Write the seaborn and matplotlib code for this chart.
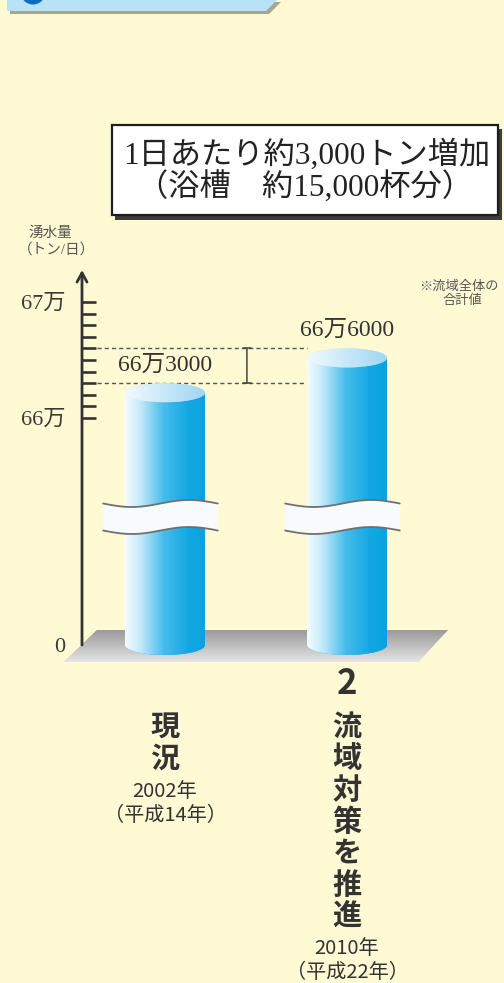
import numpy as np
import pandas as pd
import matplotlib
matplotlib.use("Agg")
import matplotlib.pyplot as plt
import seaborn as sns
from matplotlib import transforms
from matplotlib.patches import Ellipse, Polygon, Rectangle, Circle
from matplotlib.colors import LinearSegmentedColormap

# ---------------- data ----------------
categories = ["現況", "流域対策を推進"]
values = [663000, 666000]
value_labels = ["66万3000", "66万6000"]
category_prefix = ["", "2"]
years = ["2002年", "2010年"]
eras = ["（平成14年）", "（平成22年）"]
major_ticks = [0, 660000, 670000]
major_tick_labels = ["0", "66万", "67万"]
minor_ticks = [661000, 662000, 663000, 664000, 665000, 666000, 667000, 668000, 669000]
headline = ["1日あたり約3,000トン増加", "（浴槽　約15,000杯分）"]
y_label = ["湧水量", "（トン/日）"]
note_lines = ["※流域全体の", "合計値"]

# ---------------- style ----------------
BG = "#FFF9D4"
sns.set_theme(style="white")
plt.rcParams["font.family"] = ["Noto Sans CJK JP", "DejaVu Sans"]
SERIF = ["Liberation Serif", "Noto Sans CJK JP"]
SANS = ["Noto Sans CJK JP", "DejaVu Sans"]

W, H, DPI = 504, 983, 100
fig = plt.figure(figsize=(W / DPI, H / DPI), dpi=DPI, facecolor=BG)
pix = transforms.Affine2D().scale(1 / DPI, -1 / DPI).translate(0, H / DPI) + fig.dpi_scale_trans

# axes geometry (pixels)
AX_L, AX_R, AX_T, AX_B = 82, 460, 270, 672
ZERO_PX = 645
ax = fig.add_axes([AX_L / W, 1 - AX_B / H, (AX_R - AX_L) / W, (AX_B - AX_T) / H])
ax.set_facecolor("none")

# broken (piecewise-linear) value scale
BREAK = 660000
LOW_PX = 227.0
HI = 11.6 / 1000.0


def fwd(v):
    v = np.asarray(v, dtype=float)
    return np.where(v <= BREAK, v * LOW_PX / BREAK, LOW_PX + (v - BREAK) * HI)


def inv(u):
    u = np.asarray(u, dtype=float)
    return np.where(u <= LOW_PX, u * BREAK / LOW_PX, BREAK + (u - LOW_PX) / HI)


SPACING = 182.0
X0_PX = 165.0
BAR_W = 80.0 / SPACING

df = pd.DataFrame({"category": categories, "value": values})
sns.barplot(data=df, x="category", y="value", ax=ax, width=BAR_W,
            color="#1aa9e2", saturation=1, errorbar=None)
bars = list(ax.patches)

ax.set_yscale("function", functions=(fwd, inv))
ax.set_xlim((AX_L - X0_PX) / SPACING, (AX_R - X0_PX) / SPACING)
ax.set_ylim(float(inv(-(AX_B - ZERO_PX))), float(inv(ZERO_PX - AX_T)))
ax.set_autoscale_on(False)
ymax = ax.get_ylim()[1]

for s in ax.spines.values():
    s.set_visible(False)
ax.set_xlabel("")
ax.set_ylabel("")
ax.tick_params(axis="x", bottom=False, labelbottom=False)
ax.set_yticks(major_ticks, labels=major_tick_labels, fontfamily=SERIF)
ax.set_yticks(minor_ticks, minor=True)
ax.tick_params(axis="y", which="both", direction="in", length=10, width=1.9,
               color="#333333", left=True, right=False, pad=12,
               labelsize=16, labelcolor="#3a3a3a")

# ---------------- gradients ----------------
bar_cmap = LinearSegmentedColormap.from_list(
    "bar", [(0, "#f4fbfe"), (0.18, "#c6eafa"), (0.48, "#46bdec"),
            (0.78, "#13a8e3"), (1, "#0aa2df")])
cap_cmap = LinearSegmentedColormap.from_list(
    "cap", [(0, "#f2fafe"), (0.5, "#c6e8f8"), (1, "#9fd7f2")])
plate_cmap = LinearSegmentedColormap.from_list(
    "plate", [(0, "#9a9a9a"), (0.75, "#d2d2d2"), (1, "#e6e6e6")])
banner_cmap = LinearSegmentedColormap.from_list(
    "banner", [(0, "#dbf1fb"), (1, "#9cd5f3")])

G = np.linspace(0, 1, 256)


def grad(clip, extent, transform, cmap, z, vertical=False, box=None):
    arr = G.reshape(-1, 1) if vertical else G.reshape(1, -1)
    im = ax.imshow(arr, extent=extent, transform=transform, cmap=cmap,
                   aspect="auto", origin="upper", interpolation="bilinear",
                   zorder=z)
    if box is not None:
        im.set_clip_box(box)
    im.set_clip_path(clip)
    return im


xtrans = ax.get_xaxis_transform()
bt = transforms.blended_transform_factory(ax.transData, pix)

# base plate
plate = Polygon([(97, 630), (448, 630), (418, 662), (64, 662)], closed=True,
                transform=pix, facecolor="#bdbdbd", edgecolor="none",
                zorder=1, clip_on=False)
ax.add_patch(plate)
grad(plate, (64, 448, 662, 630), pix, plate_cmap, 1.1, vertical=True, box=fig.bbox)

CAP_PX = 9.5
BOT_PX = 10.0
cap_hh = CAP_PX / HI
bot_hh = BOT_PX * BREAK / LOW_PX

for i, p in enumerate(bars):
    x0, w, v = p.get_x(), p.get_width(), p.get_height()
    xc = x0 + w / 2
    p.set_height(v - cap_hh)
    p.set_edgecolor("none")
    p.set_zorder(3)
    grad(p, (x0, x0 + w, 0, 1), xtrans, bar_cmap, 3.1)
    bot = Ellipse((xc, 0), w, 2 * bot_hh, facecolor="#1aa9e2",
                  edgecolor="none", zorder=2.9)
    ax.add_patch(bot)
    grad(bot, (x0, x0 + w, 0, 1), xtrans, bar_cmap, 3.0)
    cap = Ellipse((xc, v - cap_hh), w, 2 * cap_hh, facecolor="#bfe6f7",
                  edgecolor="none", zorder=3.2)
    ax.add_patch(cap)
    grad(cap, (x0, x0 + w, 0, 1), xtrans, cap_cmap, 3.3)

    # break band (wavy)
    t = np.linspace(0, 1, 80)
    xl, xr = xc - 0.34, xc + 0.29
    xs = xl + t * (xr - xl)
    top = 503.5 + 3.5 * np.sin(2 * np.pi * t)
    botw = top + 27
    band = Polygon(np.column_stack([np.r_[xs, xs[::-1]], np.r_[top, botw[::-1]]]),
                   closed=True, transform=bt, facecolor="#f8fbfc",
                   edgecolor="none", zorder=4, clip_on=False)
    ax.add_patch(band)
    ax.plot(xs, top, transform=bt, color="#707070", lw=1.3, zorder=4.1, clip_on=False)
    ax.plot(xs, botw, transform=bt, color="#707070", lw=1.3, zorder=4.1, clip_on=False)

    # value label
    ax.annotate(value_labels[i], xy=(xc, v), xytext=(0, 13), textcoords="offset points",
                ha="center", va="center", fontsize=17, family=SERIF,
                color="#333333", zorder=6)

# dashed reference lines and bracket
ax.hlines(values, (97 - X0_PX) / SPACING, bars[1].get_x(), colors="#555555",
          linestyles=(0, (3, 2.2)), lw=1.0, zorder=2)
ax.annotate("", xy=(0.45, values[0]), xytext=(0.45, values[1]),
            arrowprops=dict(arrowstyle="|-|,widthA=0.25,widthB=0.25", lw=1.1,
                            color="#444444", shrinkA=0, shrinkB=0), zorder=5)

# y axis line with arrow
yt = ax.get_yaxis_transform()
ax.annotate("", xy=(0, ymax), xycoords=yt, xytext=(0, 0), textcoords=yt,
            arrowprops=dict(arrowstyle="->,head_length=0.55,head_width=0.3",
                            lw=2.0, color="#333333", shrinkA=0, shrinkB=0),
            annotation_clip=False, zorder=5)

# ---------------- category labels ----------------
CH_STEP = 31.5
for i, cat in enumerate(categories):
    y0 = 727
    if category_prefix[i]:
        ax.text(i, 684, category_prefix[i], transform=bt, ha="center", va="center",
                fontsize=25, fontweight="bold", family=SANS, color="#333333")
    for k, ch in enumerate(cat):
        ax.text(i, y0 + k * CH_STEP, ch, transform=bt, ha="center", va="center",
                fontsize=21, fontweight="bold", family=SANS, color="#333333")
    yy = y0 + (len(cat) - 1) * CH_STEP + 33
    ax.text(i, yy, years[i], transform=bt, ha="center", va="center",
            fontsize=14.5, family=SANS, color="#333333")
    ax.text(i, yy + 24, eras[i], transform=bt, ha="center", va="center",
            fontsize=14.5, family=SANS, color="#333333")

# ---------------- decorations ----------------
# banner at top
shadow = Polygon([(10, 2), (281, 2), (269, 14), (10, 14)], closed=True,
                 transform=pix, facecolor="#a7a78e", edgecolor="none", zorder=1)
fig.add_artist(shadow)
banner = Polygon([(7, -1), (278, -1), (266, 11), (7, 11)], closed=True,
                 transform=pix, facecolor="#b8e2f7", edgecolor="none", zorder=2)
fig.add_artist(banner)
grad(banner, (7, 278, 11, -1), pix, banner_cmap, 2.1, vertical=True, box=fig.bbox)
fig.add_artist(Circle((33, -8), 12.5, transform=pix, facecolor="#0b6cc0",
                      edgecolor="none", zorder=3))

# headline box
fig.add_artist(Rectangle((115, 129), 387, 91, transform=pix,
                         facecolor="#3c3c3c", edgecolor="none", zorder=2))
fig.add_artist(Rectangle((112, 125), 386, 90, transform=pix,
                         facecolor="white", edgecolor="#1e1e1e", lw=1.6, zorder=3))
fig.text(307, 155, headline[0], transform=pix, ha="center", va="center",
         fontsize=22.5, family=SERIF, color="#222222", zorder=4)
fig.text(305, 188, headline[1], transform=pix, ha="center", va="center",
         fontsize=22.5, family=SERIF, color="#222222", zorder=4)

# axis title and note
fig.text(50, 233, y_label[0], transform=pix, ha="center", va="center",
         fontsize=10.5, family=SERIF, color="#555555")
fig.text(57, 250, y_label[1], transform=pix, ha="center", va="center",
         fontsize=10.5, family=SERIF, color="#555555")
fig.text(459, 287, note_lines[0], transform=pix, ha="center", va="center",
         fontsize=9.5, family=SERIF, color="#555555")
fig.text(462, 301, note_lines[1], transform=pix, ha="center", va="center",
         fontsize=9.5, family=SERIF, color="#555555")

fig.savefig("out.png", dpi=DPI, facecolor=BG)
